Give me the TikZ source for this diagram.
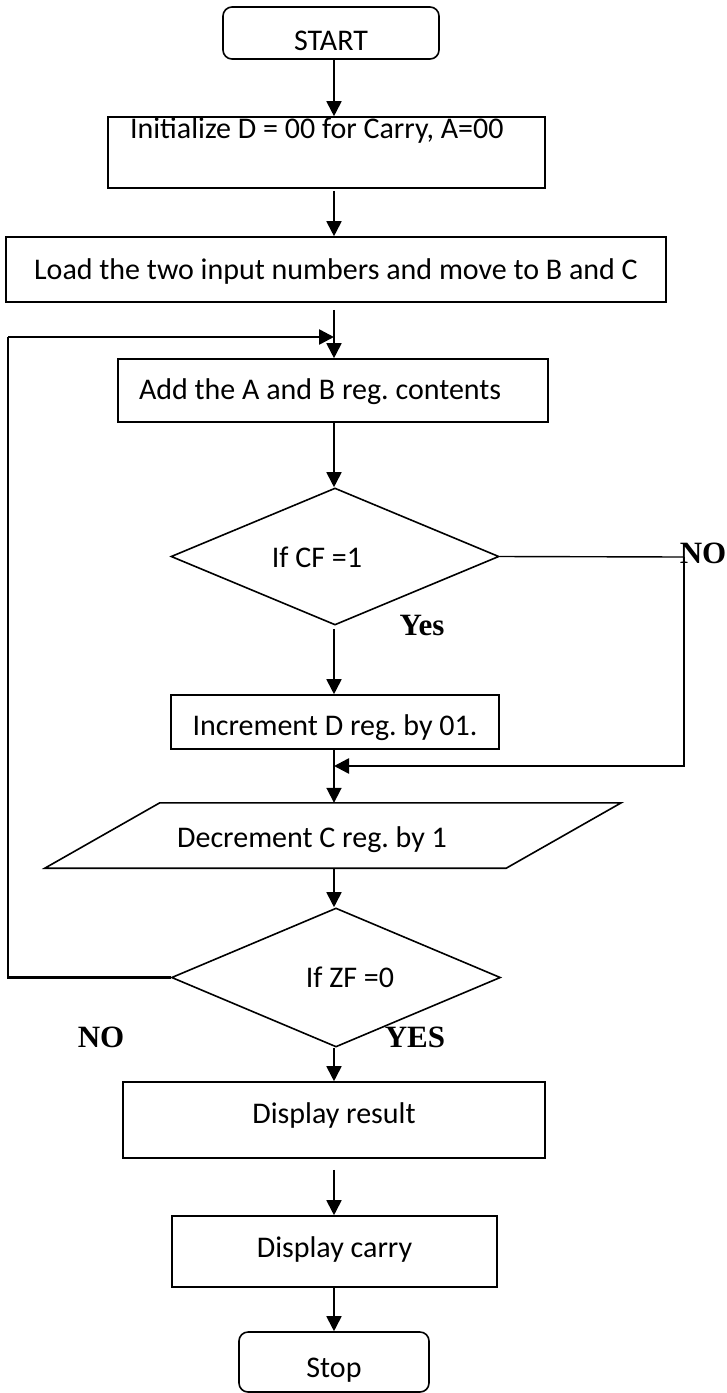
\documentclass[tikz,border=0pt]{standalone}
\usepackage{fontspec}
\setmainfont{Carlito}
\newfontfamily\labelfont{Liberation Serif}
\usetikzlibrary{arrows.meta,shapes.geometric,calc}
\frenchspacing

\begin{document}
\begin{tikzpicture}[x=1pt,y=-1pt,
  every node/.style={font=\fontsize{30}{34}\selectfont, inner sep=0pt},
  box/.style={draw, line width=1.6pt, rectangle},
  term/.style={box, rounded corners=9pt},
  decision/.style={draw, line width=1.6pt, diamond},
  flow/.style={line width=1.8pt, -{Triangle[length=15pt,width=15pt]}},
  back/.style={line width=2.6pt},
  backflow/.style={line width=2.6pt, -{Triangle[length=15pt,width=15pt]}},
  thinline/.style={line width=1.4pt},
  branch/.style={font=\labelfont\bfseries\fontsize{31}{34}\selectfont}
]
\useasboundingbox (0,0) rectangle (726,1393);

% main vertical axis of the flow
\coordinate (axis) at (334,0);

% boxes
\node[term, minimum width=216pt, text height=43pt, text depth=9pt] (start) at (331,33) {START};
\node[box, minimum width=437pt, text height=21pt, text depth=50pt] (init) at (326.5,152.5)
  {\makebox[393pt][l]{Initialize D = 00 for Carry, A=00}};
\node[box, minimum width=660pt, text height=42pt, text depth=23pt] (load) at (336,269.5)
  {Load the two input numbers and move to B and C};
\node[box, minimum width=430pt, text height=40pt, text depth=23pt] (add) at (333,390.5)
  {\makebox[388pt][l]{Add the A and B reg. contents}};
\node[decision, minimum width=328pt, minimum height=137pt] (cf) at (335,556.5) {};
\node[anchor=base] (cftxt) at (317,567) {If CF =1};
\node[box, minimum width=328pt, text height=40pt, text depth=14pt] (inc) at (335,722)
  {Increment D reg. by 01.};

% parallelogram (input/output)
\node[minimum width=461pt, minimum height=65pt] (dec) at (333,835.5) {};
\draw[line width=1.6pt]
  ($(dec.north west)+(57.5,0)$) -- ($(dec.north east)+(57.5,0)$) --
  ($(dec.south east)+(-57.5,0)$) -- ($(dec.south west)+(-57.5,0)$) -- cycle;
\node[anchor=base] (dectxt) at (312,847) {Decrement C reg. by 1};

\node[decision, minimum width=329pt, minimum height=139pt] (zf) at (336,977.5) {};
\node[anchor=base] (zftxt) at (350,987) {If ZF =0};
\node[box, minimum width=422pt, text height=41pt, text depth=35pt] (result) at (334,1120)
  {Display result};
\node[box, minimum width=325pt, text height=41pt, text depth=30pt] (carry) at (334.5,1251.5)
  {Display carry};
\node[term, minimum width=190pt, text height=45pt, text depth=15pt] (stop) at (334,1362)
  {Stop};

% branch labels
\node[branch] (noA) at (703,553) {NO};
\node[branch] (yesA) at (422,625) {Yes};
\node[branch] (noB) at (101,1037) {NO};
\node[branch] (yesB) at (415,1037) {YES};

% main flow
\draw[flow] (axis |- start.south) -- (axis |- init.north);
\draw[flow, shorten <=2pt] (axis |- init.south) -- (axis |- load.north);
\draw[flow, shorten <=7pt] (axis |- load.south) -- (axis |- add.north);
\draw[flow] (axis |- add.south) -- (axis |- cf.north);
\draw[flow, shorten <=3pt] (axis |- cf.south) -- (axis |- inc.north);
\draw[flow] (axis |- inc.south) -- (axis |- dec.north);
\draw[flow] (axis |- dec.south) -- (axis |- zf.north);
\draw[flow] (axis |- zf.south) -- (axis |- result.north);
\draw[flow, shorten <=11pt] (axis |- result.south) -- (axis |- carry.north);
\draw[flow] (axis |- carry.south) -- (axis |- stop.north);

% NO branch of the carry test joins below the increment box
\coordinate (noR) at (684,557);
\coordinate (mergeR) at (684,766);
\draw[thinline] (cf.east) -- (noR);
\draw[backflow] (noR) -- (mergeR) -- (axis |- mergeR);

% loop back while ZF = 0
\coordinate (loopB) at (8,977.5);
\coordinate (loopT) at (8,337);
\draw[back] (zf.west) -- (loopB) -- (loopT);
\draw[backflow] (loopT) -- (axis |- loopT);
\end{tikzpicture}
\end{document}
